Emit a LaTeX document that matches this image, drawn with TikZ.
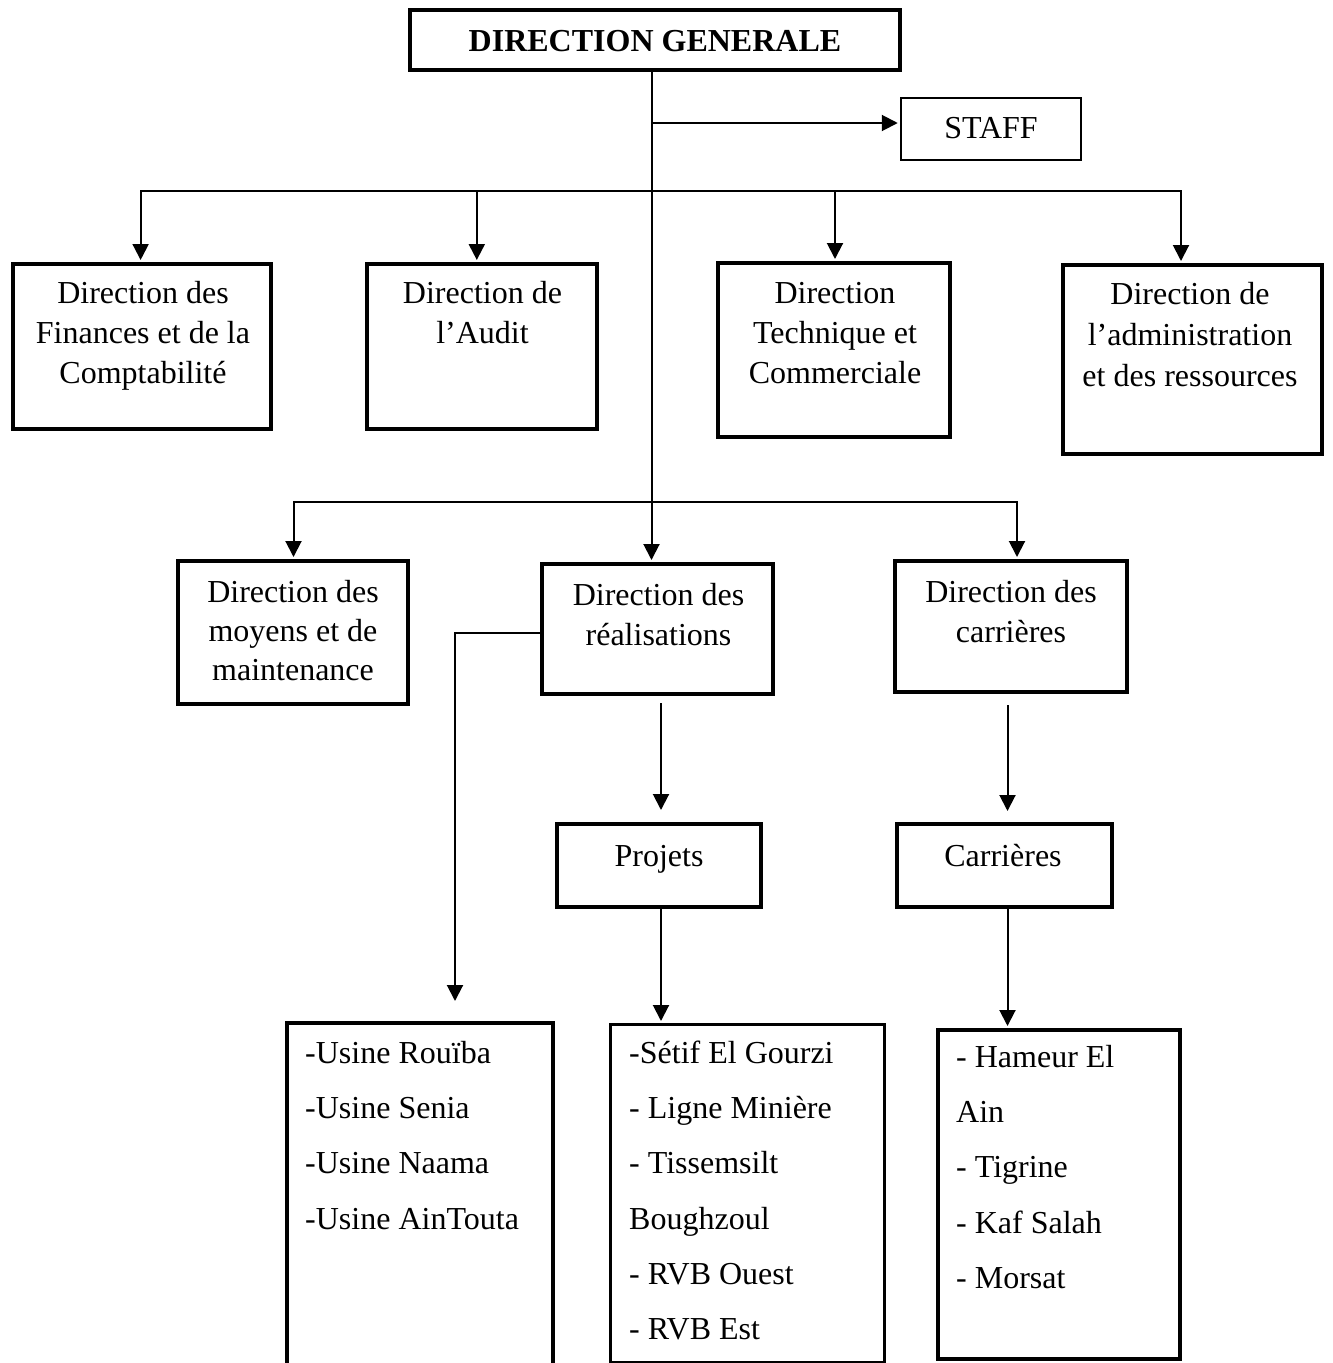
\documentclass[tikz,border=0pt]{standalone}
\usepackage{fontspec}
\setmainfont{Liberation Serif}
\usetikzlibrary{arrows.meta}
% fixed height for the first line of every label, so labels can be placed by baseline
\newcommand{\topstrut}{\rule{0pt}{28pt}}
\begin{document}
\begin{tikzpicture}[x=1pt,y=-1pt,
  orgbox/.style={draw=black, line width=4pt, inner sep=0pt, rectangle},
  boxlabel/.style={inner sep=0pt, anchor=north, align=center, font=\fontsize{32}{40}\selectfont},
  itemlist/.style={inner sep=0pt, anchor=north west, align=left, font=\fontsize{32}{55.3}\selectfont},
  link/.style={line width=2pt},
  arr/.style={link, -{Triangle[width=16pt,length=16pt]}},
  twoarr/.style={link, {Triangle[width=16pt,length=16pt]}-{Triangle[width=16pt,length=16pt]}}]

\useasboundingbox (0,0) rectangle (1333,1363);
\clip (0,0) rectangle (1333,1363);

% ---------- boxes ----------
\node[orgbox, line width=3.5pt, minimum width=490pt, minimum height=60pt] (dg) at (655,40) {};
\node[orgbox, line width=2.5pt, minimum width=180pt, minimum height=62pt] (staff) at (991,129) {};

\node[orgbox, minimum width=258pt, minimum height=165pt] (fin)   at (142,346.5) {};
\node[orgbox, minimum width=230pt, minimum height=165pt] (audit) at (482,346.5) {};
\node[orgbox, minimum width=232pt, minimum height=174pt] (tech)  at (834,350) {};
\node[orgbox, minimum width=259pt, minimum height=189pt] (admin) at (1192.5,359.5) {};

\node[orgbox, minimum width=230.5pt, minimum height=143pt] (moy)  at (292.75,632.5) {};
\node[orgbox, minimum width=231pt, minimum height=130pt]   (real) at (657.5,629) {};
\node[orgbox, minimum width=232pt, minimum height=131pt]   (carr) at (1011,626.5) {};

\node[orgbox, minimum width=203.5pt, minimum height=83pt] (projets) at (658.75,865.5) {};
\node[orgbox, minimum width=215.5pt, minimum height=83pt] (carrsub) at (1004.25,865.5) {};

\node[orgbox, minimum width=266.5pt, minimum height=377pt] (usine) at (419.75,1211.5) {};
\node[orgbox, line width=3pt, minimum width=274.3pt, minimum height=338pt] (setif) at (747.35,1193.5) {};
\node[orgbox, minimum width=242pt, minimum height=329pt] (hameur) at (1059,1194.5) {};

% ---------- labels ----------
\node[boxlabel, font=\fontsize{32}{40}\selectfont\bfseries] (dgT) at (655,23) {\topstrut DIRECTION GENERALE};
\node[boxlabel] (staffT) at (991,110) {\topstrut STAFF};

\node[boxlabel] (finT)   at (143,275) {\topstrut Direction des\\Finances et de la\\Comptabilité};
\node[boxlabel] (auditT) at (482.5,275) {\topstrut Direction de\\l’Audit};
\node[boxlabel] (techT)  at (835,275) {\topstrut Direction\\Technique et\\Commerciale};
\node[boxlabel, font=\fontsize{32}{41}\selectfont] (adminT) at (1190,276) {\topstrut Direction de\\l’administration\\et des ressources};

\node[boxlabel, font=\fontsize{32}{39}\selectfont] (moyT) at (293,574) {\topstrut Direction des\\moyens et de\\maintenance};
\node[boxlabel] (realT) at (658.5,577) {\topstrut Direction des\\réalisations};
\node[boxlabel] (carrT) at (1011,574) {\topstrut Direction des\\carrières};

\node[boxlabel] (projetsT) at (659,838) {\topstrut Projets};
\node[boxlabel] (carrsubT) at (1003,838) {\topstrut Carrières};

\node[itemlist] (usineT)  at (305,1035) {\topstrut -Usine Rouïba\\-Usine Senia\\-Usine Naama\\-Usine AinTouta};
\node[itemlist] (setifT)  at (629,1035) {\topstrut -Sétif El Gourzi\\- Ligne Minière\\- Tissemsilt\\Boughzoul\\- RVB Ouest\\- RVB Est};
\node[itemlist] (hameurT) at (956,1039) {\topstrut - Hameur El\\Ain\\- Tigrine\\- Kaf Salah\\- Morsat};

% ---------- routing points ----------
\coordinate (trunk) at (651.5,0);
\coordinate (busA) at (0,191);
\coordinate (busB) at (0,502);
\coordinate (sA) at (651.5,123);
\coordinate (xFin) at (140.6,0);
\coordinate (xAud) at (476.8,0);
\coordinate (xTec) at (835,0);
\coordinate (xAdm) at (1181,0);
\coordinate (xMoy) at (293.5,0);
\coordinate (xCar) at (1017,0);
\coordinate (rU) at (455,633);
\coordinate (xPro) at (661,0);
\coordinate (xCs) at (1007.5,0);

% ---------- connectors ----------
\draw[arr, shorten >=2pt] (dg.south -| trunk) -- (real.north -| trunk);
\draw[arr, shorten >=2pt] (sA) -- (sA -| staff.west);

\draw[twoarr, shorten >=2pt, shorten <=2pt] (fin.north -| xFin) -- (busA -| xFin) -- (busA -| xAdm) -- (admin.north -| xAdm);
\draw[arr, shorten >=2pt] (busA -| xAud) -- (audit.north -| xAud);
\draw[arr, shorten >=2pt] (busA -| xTec) -- (tech.north -| xTec);

\draw[twoarr, shorten >=2pt, shorten <=2pt] (moy.north -| xMoy) -- (busB -| xMoy) -- (busB -| xCar) -- (carr.north -| xCar);

\draw[arr, shorten >=20pt] (real.west |- rU) -- (rU) -- (rU |- usine.north);
\draw[arr, shorten <=7pt, shorten >=12pt] (real.south -| xPro) -- (projets.north -| xPro);
\draw[arr, shorten <=11pt, shorten >=11pt] (carr.south -| xCs) -- (carrsub.north -| xCs);
\draw[arr, shorten >=2pt] (projets.south -| xPro) -- (setif.north -| xPro);
\draw[arr, shorten >=2pt] (carrsub.south -| xCs) -- (hameur.north -| xCs);

\end{tikzpicture}
\end{document}
